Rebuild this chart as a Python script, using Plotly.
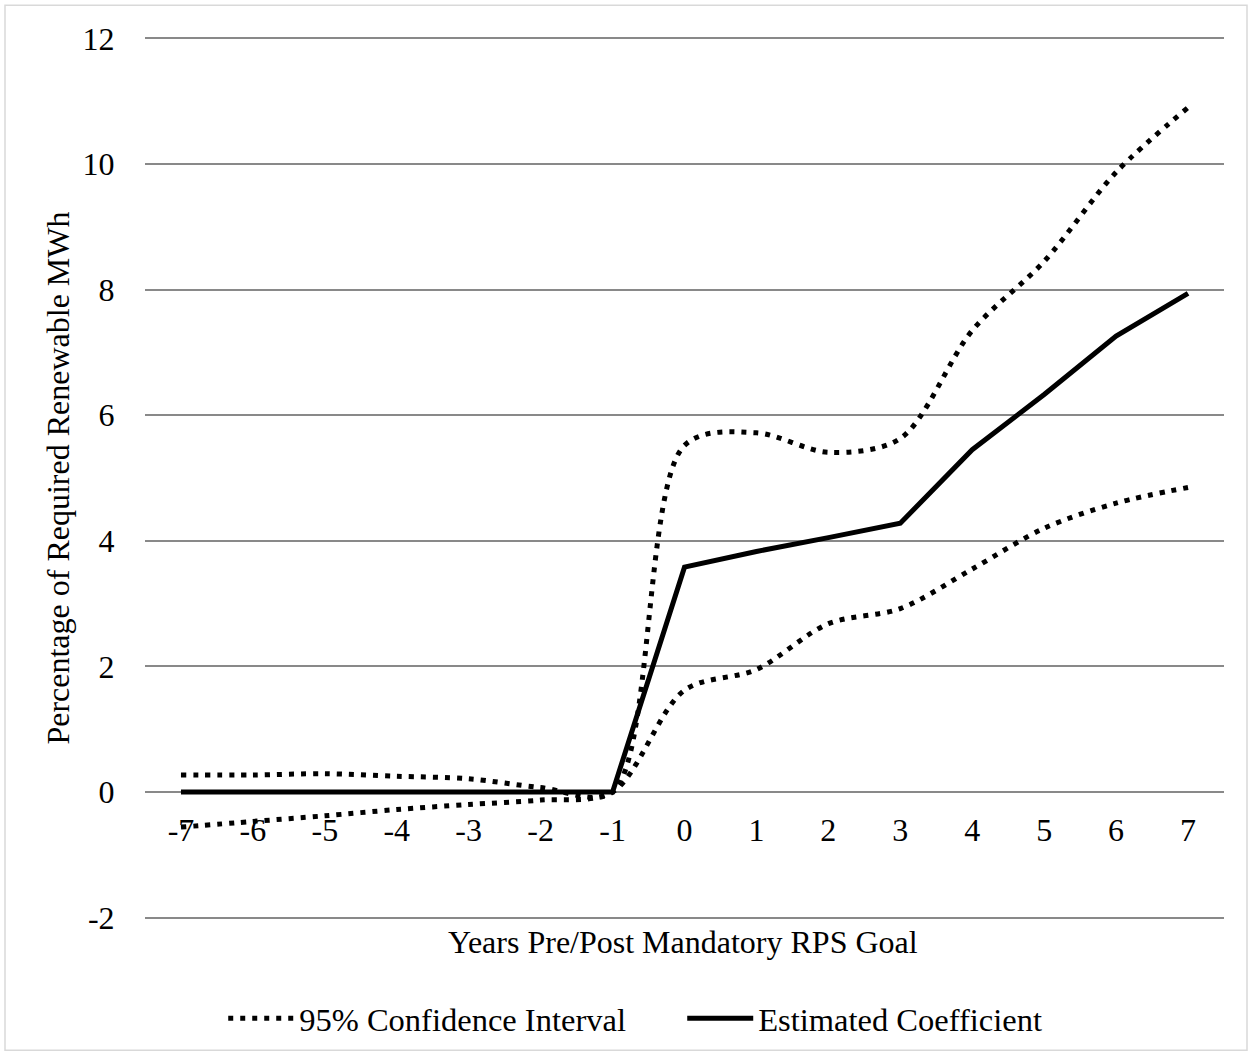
import plotly.graph_objects as go

years = ["-7", "-6", "-5", "-4", "-3", "-2", "-1", "0", "1", "2", "3", "4", "5", "6", "7"]
upper_ci = [0.27, 0.27, 0.29, 0.25, 0.21, 0.07, 0.0, 5.52, 5.72, 5.41, 5.63, 7.35, 8.45, 9.87, 10.9]
lower_ci = [-0.56, -0.47, -0.38, -0.28, -0.20, -0.13, 0.0, 1.62, 1.95, 2.68, 2.92, 3.55, 4.20, 4.60, 4.85]
coef = [0, 0, 0, 0, 0, 0, 0, 3.58, 3.83, 4.05, 4.28, 5.45, 6.33, 7.26, 7.94]
y_ticks = [-2, 0, 2, 4, 6, 8, 10, 12]
y_tick_text = ["-2", "0", "2", "4", "6", "8", "10", "12"]

FONT = "Liberation Serif, Times New Roman, serif"
dot_line = dict(color="black", width=5, dash="5px,7px", shape="spline", smoothing=0.9)

fig = go.Figure()
fig.add_trace(go.Scatter(x=years, y=upper_ci, mode="lines", name="95% Confidence Interval",
                         line=dot_line, legendgroup="ci"))
fig.add_trace(go.Scatter(x=years, y=lower_ci, mode="lines", name="95% Confidence Interval",
                         line=dot_line, legendgroup="ci", showlegend=False))
fig.add_trace(go.Scatter(x=years, y=coef, mode="lines", name="Estimated Coefficient",
                         line=dict(color="black", width=5)))

fig.update_layout(
    width=1252, height=1059,
    margin=dict(l=145, r=28, t=37, b=135),
    paper_bgcolor="white", plot_bgcolor="white",
    font=dict(family=FONT, size=32, color="black"),
    showlegend=True,
    legend=dict(orientation="h", x=0.0725, xanchor="left", y=-0.113, yanchor="middle",
                font=dict(size=32.5), itemwidth=66, entrywidth=378, entrywidthmode="pixels",
                tracegroupgap=0, bgcolor="rgba(0,0,0,0)"),
    xaxis=dict(type="category", range=[-0.5, 14.5], anchor="free", position=2.0237/14.0474,
               showgrid=False, zeroline=False, showline=False, ticks="outside", ticklen=10,
               tickcolor="rgba(0,0,0,0)", tickfont=dict(size=32)),
    yaxis=dict(range=[-2.0237, 12.0237], tickvals=y_ticks, ticktext=y_tick_text,
               showgrid=True, gridcolor="#898989", gridwidth=1.5, zeroline=False, showline=False,
               ticks="outside", ticklen=23, tickcolor="rgba(0,0,0,0)", tickfont=dict(size=32)),
    annotations=[
        dict(text="Years Pre/Post Mandatory RPS Goal", xref="paper", yref="paper",
             x=0.4986, y=-0.026, xanchor="center", yanchor="middle", showarrow=False,
             font=dict(size=32)),
        dict(text="Percentage of Required Renewable MWh", xref="paper", yref="paper",
             x=-0.081, y=0.5, xanchor="center", yanchor="middle", textangle=-90,
             showarrow=False, font=dict(size=32)),
    ],
    shapes=[dict(type="rect", xref="paper", yref="paper",
                 x0=-140/1079, x1=1+23/1079, y0=-132/887, y1=1+32/887,
                 line=dict(color="#d9d9d9", width=1.5), layer="below")],
)

fig.write_html("out.html", config={"displayModeBar": False},
               post_script="document.body.style.margin='0';document.body.style.overflow='hidden';")
